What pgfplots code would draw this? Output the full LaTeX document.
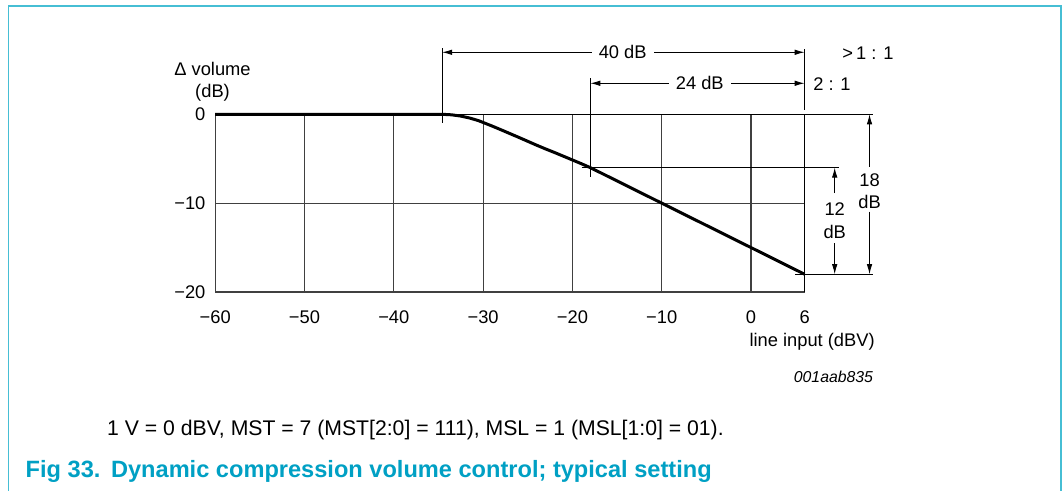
\documentclass[border=0pt]{standalone}
\usepackage{pgfplots}
\pgfplotsset{compat=1.18}
\usepackage{fontspec}
\setmainfont{Liberation Sans}
\usetikzlibrary{arrows.meta}
\definecolor{framecyan}{RGB}{70,190,212}
\definecolor{capcyan}{RGB}{0,160,196}
\begin{document}
\fontsize{18.3}{22}\selectfont
\begin{tikzpicture}[x=1pt,y=1pt,
  dim/.style={line width=0.9pt, black},
  arr/.style={-{Latex[length=10pt,width=5.5pt]}},
  darr/.style={{Latex[length=10pt,width=5.5pt]}-{Latex[length=10pt,width=5.5pt]}}]
\useasboundingbox (0pt,0pt) rectangle (1063pt,490pt);
\draw[framecyan, line width=1.6pt] (8.3pt,-2pt) -- (8.3pt,484pt) -- (1061pt,484pt) -- (1061pt,-2pt);
\begin{axis}[
  at={(215.2pt,198pt)}, anchor=south west,
  scale only axis, width=589.4pt, height=177.7pt,
  xmin=-60, xmax=6, ymin=-20, ymax=0,
  xtick={-60,-50,-40,-30,-20,-10,0,6},
  xticklabels={−60,−50,−40,−30,−20,−10,0,6},
  ytick={-20,-10,0},
  yticklabels={−20,−10,0},
  major tick length=0pt,
  xmajorgrids, ymajorgrids,
  grid style={black!75, line width=1.1pt},
  axis line style={black!75, line width=1.1pt},
  xticklabel style={inner sep=0pt, anchor=north, yshift=-18.5pt},
  yticklabel style={inner sep=0pt, anchor=east, xshift=-9.6pt},
  clip=false,
]
% extension lines
\draw[black, line width=1pt] (axis cs:-60,0) -- (axis cs:13.68,0);
\draw[black, line width=1pt] (axis cs:-18.97,-6) -- (axis cs:9.81,-6);
\draw[black, line width=1pt] (axis cs:4.96,-18) -- (axis cs:13.68,-18);
\draw[black, line width=1pt] (axis cs:6,0) -- (axis cs:6,-20);
% curve
\addplot[black, line width=3pt, line join=round, no markers] coordinates {
 (-60,0) (-34.6,0) (-33.5,-0.06) (-32.5,-0.2) (-31.5,-0.42) (-30.5,-0.72) (-30,-0.92)
 (-29,-1.32) (-28,-1.74) (-27,-2.17) (-26,-2.6) (-25,-3.04) (-24,-3.48)
 (-23,-3.9) (-22,-4.3) (-21,-4.72) (-20,-5.14) (-19,-5.56) (-18,-6)
 (-10,-10) (6,-18)};
% 40 dB
\draw[dim] (axis cs:-34.6,7.43) -- (axis cs:-34.6,-0.95);
\draw[dim] (axis cs:6,7.32) -- (axis cs:6,0.48);
\draw[dim,darr] (axis cs:-34.6,6.98) -- (axis cs:6,6.98);
\node[fill=white, inner xsep=7pt, inner ysep=1pt] at (axis cs:-14.37,6.98) {40 dB};
% 24 dB
\draw[dim] (axis cs:-18,4.05) -- (axis cs:-18,-7.02);
\draw[dim,darr] (axis cs:-18,3.49) -- (axis cs:6,3.49);
\node[fill=white, inner xsep=7pt, inner ysep=1pt] at (axis cs:-5.74,3.49) {24 dB};
% ratios
\node at (axis cs:13.1,6.87) {>\,1 : 1};
\node at (axis cs:9.07,3.38) {2 : 1};
% 18 dB
\draw[dim,arr] (axis cs:13.27,-5.93) -- (axis cs:13.27,0);
\draw[dim,arr] (axis cs:13.27,-10.96) -- (axis cs:13.27,-18);
\node at (axis cs:13.27,-7.39) {18};
\node at (axis cs:13.27,-9.84) {dB};
% 12 dB
\draw[dim,arr] (axis cs:9.37,-8.86) -- (axis cs:9.37,-6);
\draw[dim,arr] (axis cs:9.37,-14.52) -- (axis cs:9.37,-18);
\node at (axis cs:9.37,-10.66) {12};
\node at (axis cs:9.37,-13.21) {dB};
% axis titles
\node at (axis cs:-60.3,5.06) {Δ volume};
\node at (axis cs:-60.3,2.43) {(dB)};
\node[anchor=east, inner sep=0pt] at (axis cs:13.87,-25.59) {line input (dBV)};
\node[anchor=east, inner sep=0pt, font=\fontsize{15.8}{18}\selectfont\itshape] at (axis cs:13.68,-29.53) {001aab835};
\end{axis}
\node[anchor=west, inner sep=0pt, font=\fontsize{21.2}{25}\selectfont] at (107pt,60pt) {1 V = 0 dBV, MST = 7 (MST[2:0] = 111), MSL = 1 (MSL[1:0] = 01).};
\node[anchor=west, inner sep=0pt, text=capcyan, font=\fontsize{23.6}{28}\selectfont\bfseries] at (25.5pt,19pt) {Fig 33.\hspace{0.45em}Dynamic compression volume control; typical setting};
\end{tikzpicture}
\end{document}
